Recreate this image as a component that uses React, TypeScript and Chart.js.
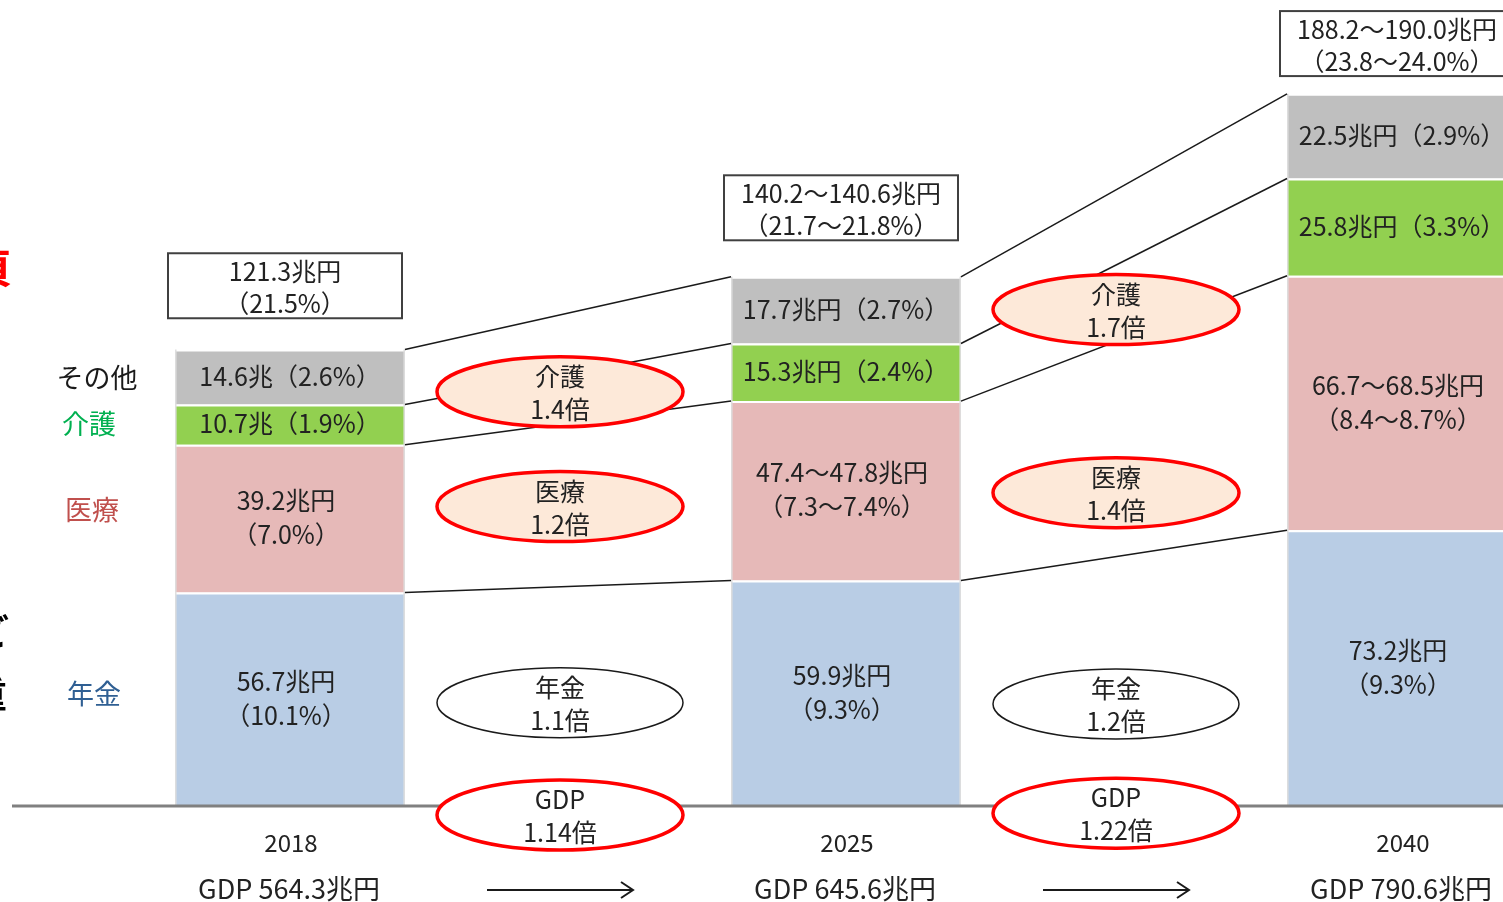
import React, { useEffect, useRef } from "react";
import { Chart, registerables } from "chart.js";

Chart.register(...registerables);

// ---- data ----
const categories = ["2018", "", "2025", "", "2040"];
const gdpLabels = ["GDP 564.3兆円", "", "GDP 645.6兆円", "", "GDP 790.6兆円"];

const pension = [56.7, null, 59.9, null, 73.2];
const medical = [39.2, null, 47.6, null, 67.6];
const care = [10.7, null, 15.3, null, 25.8];
const other = [14.6, null, 17.7, null, 22.5];

const pensionText = [["56.7兆円", "（10.1%）"], null, ["59.9兆円", "（9.3%）"], null, ["73.2兆円", "（9.3%）"]];
const medicalText = [["39.2兆円", "（7.0%）"], null, ["47.4～47.8兆円", "（7.3～7.4%）"], null, ["66.7～68.5兆円", "（8.4～8.7%）"]];
const careText = [["10.7兆（1.9%）"], null, ["15.3兆円（2.4%）"], null, ["25.8兆円（3.3%）"]];
const otherText = [["14.6兆（2.6%）"], null, ["17.7兆円（2.7%）"], null, ["22.5兆円（2.9%）"]];

const totalText = [["121.3兆円", "（21.5%）"], null, ["140.2～140.6兆円", "（21.7～21.8%）"], null, ["188.2～190.0兆円", "（23.8～24.0%）"]];
const totalBoxLevel = [129.5, null, 150.2, null, 193.8];

const seriesNames = ["年金", "医療", "介護", "その他"];
const seriesColors = ["#b9cde5", "#e6b9b8", "#92d050", "#bfbfbf"];
const legendColors = ["#2f5f93", "#c0504d", "#00b050", "#1a1a1a"];
const legendX = [94, 92, 89, 97];
const legendDy = [-5, -9, -1, 1];

// growth ratios shown between bars (gap categories 1 and 3)
const ratioGaps = [1, 3];
const ratioNames = ["介護", "医療", "年金", "GDP"];
const ratioValues = [
  ["1.4倍", "1.7倍"],
  ["1.2倍", "1.4倍"],
  ["1.1倍", "1.2倍"],
  ["1.14倍", "1.22倍"],
];
const ratioLevels = [
  [110.0, 131.8],
  [79.5, 83.2],
  [27.4, 27.1],
  [-2.4, -1.9],
];
const ratioStroke = ["#ff0000", "#ff0000", "#1a1a1a", "#ff0000"];
const ratioFill = ["#fde9d9", "#fde9d9", "#ffffff", "#ffffff"];

const FONT = '"Noto Sans CJK JP", "Noto Sans CJK SC", sans-serif';
const TEXT = "#222222";

function drawLines(ctx: CanvasRenderingContext2D, lines: string[], x: number, cy: number, lh: number, size: number, color: string) {
  ctx.font = `${size}px ${FONT}`;
  ctx.fillStyle = color;
  ctx.textAlign = "center";
  ctx.textBaseline = "middle";
  const n = lines.length;
  lines.forEach((t, i) => ctx.fillText(t, x, cy + (i - (n - 1) / 2) * lh));
}

const overlayPlugin = {
  id: "overlay",
  afterDatasetsDraw(chart: any) {
    const ctx: CanvasRenderingContext2D = chart.ctx;
    const xs = chart.scales.x;
    const ys = chart.scales.y;
    const metas = [0, 1, 2, 3].map((i) => chart.getDatasetMeta(i));
    const barIdx = [0, 2, 4];
    const base = chart.chartArea.bottom;
    ctx.save();

    // faint bar side edges
    ctx.strokeStyle = "#dedede";
    ctx.lineWidth = 1.5;
    barIdx.forEach((i) => {
      const top = metas[3].data[i];
      const l = top.x - top.width / 2;
      const r = top.x + top.width / 2;
      ctx.beginPath();
      ctx.moveTo(l + 0.75, top.y);
      ctx.lineTo(l + 0.75, base);
      ctx.moveTo(r - 0.75, top.y);
      ctx.lineTo(r - 0.75, base);
      ctx.stroke();
    });

    // connecting lines
    ctx.strokeStyle = "#1a1a1a";
    ctx.lineWidth = 1.5;
    metas.forEach((meta) => {
      for (let k = 0; k < barIdx.length - 1; k++) {
        const a = meta.data[barIdx[k]];
        const b = meta.data[barIdx[k + 1]];
        ctx.beginPath();
        ctx.moveTo(a.x + a.width / 2, a.y);
        ctx.lineTo(b.x - b.width / 2, b.y);
        ctx.stroke();
      }
    });

    // segment labels
    const texts = [pensionText, medicalText, careText, otherText];
    metas.forEach((meta, d) => {
      barIdx.forEach((i) => {
        const el = meta.data[i];
        const t = texts[d][i] as string[] | null;
        if (!t) return;
        const dx = t.length > 1 ? -4 : 0;
        drawLines(ctx, t, el.x + dx, (el.y + el.base) / 2 - 1, 34, 25, TEXT);
      });
    });

    // total boxes
    barIdx.forEach((i) => {
      const t = totalText[i];
      if (!t) return;
      const cx = xs.getPixelForValue(i) - 5;
      const bottom = ys.getPixelForValue(totalBoxLevel[i] as number);
      const w = 234, h = 65;
      ctx.fillStyle = "#ffffff";
      ctx.fillRect(cx - w / 2, bottom - h, w, h);
      ctx.strokeStyle = "#404040";
      ctx.lineWidth = 2;
      ctx.strokeRect(cx - w / 2, bottom - h, w, h);
      drawLines(ctx, t, cx, bottom - h / 2 + 2, 32, 25, TEXT);
    });

    // baseline
    ctx.strokeStyle = "#808080";
    ctx.lineWidth = 3;
    ctx.beginPath();
    ctx.moveTo(12, base);
    ctx.lineTo(1503, base);
    ctx.stroke();

    // ratio ellipses
    ratioGaps.forEach((g, gi) => {
      const cx = xs.getPixelForValue(g) - 8;
      ratioNames.forEach((name, r) => {
        const cy = ys.getPixelForValue(ratioLevels[r][gi]);
        ctx.beginPath();
        ctx.ellipse(cx, cy, 123, 35, 0, 0, Math.PI * 2);
        ctx.fillStyle = ratioFill[r];
        ctx.fill();
        ctx.strokeStyle = ratioStroke[r];
        ctx.lineWidth = ratioStroke[r] === "#ff0000" ? 3.5 : 1.5;
        ctx.stroke();
        drawLines(ctx, [name, ratioValues[r][gi]], cx, cy + 1, 33, 25, TEXT);
      });
    });

    // left legend labels (aligned to 2018 segments)
    metas.forEach((meta, d) => {
      const el = meta.data[0];
      const cy = (el.y + el.base) / 2 + legendDy[d];
      drawLines(ctx, [seriesNames[d]], legendX[d], cy, 30, 27, legendColors[d]);
    });

    // category labels under the axis
    categories.forEach((c, i) => {
      if (!c) return;
      const x = xs.getPixelForValue(i);
      drawLines(ctx, [c], x + 1, base + 37, 30, 24, TEXT);
      drawLines(ctx, [gdpLabels[i]], x - 1, base + 83, 30, 27, TEXT);
    });

    // arrows between GDP labels
    ctx.strokeStyle = "#1a1a1a";
    ctx.lineWidth = 2;
    ratioGaps.forEach((g) => {
      const cx = xs.getPixelForValue(g) - 8;
      const y = base + 84;
      ctx.beginPath();
      ctx.moveTo(cx - 73, y);
      ctx.lineTo(cx + 73, y);
      ctx.moveTo(cx + 61, y - 8);
      ctx.lineTo(cx + 73, y);
      ctx.lineTo(cx + 61, y + 8);
      ctx.stroke();
    });

    // cropped fragments at the left edge
    ctx.textAlign = "right";
    ctx.textBaseline = "middle";
    ctx.font = `bold 40px ${FONT}`;
    ctx.fillStyle = "#ff0000";
    ctx.fillText("頁", 12, 268);
    ctx.font = `bold 36px ${FONT}`;
    ctx.fillStyle = "#000000";
    ctx.fillText("ご", 9, 632);
    ctx.fillText("重", 7, 694);

    ctx.restore();
  },
};

export default function App() {
  const ref = useRef<HTMLCanvasElement | null>(null);

  useEffect(() => {
    document.body.style.margin = "0";
    const canvas = ref.current;
    if (!canvas) return;
    const values = [pension, medical, care, other];
    const chart = new Chart(canvas, {
      type: "bar",
      data: {
        labels: categories,
        datasets: values.map((v, d) => ({
          label: seriesNames[d],
          data: v as any,
          backgroundColor: seriesColors[d],
          borderColor: "#ffffff",
          borderWidth: { top: 2, left: 0, right: 0, bottom: 0 },
          borderSkipped: "start",
          barPercentage: 0.827,
          categoryPercentage: 1,
        })),
      },
      options: {
        responsive: false,
        maintainAspectRatio: false,
        animation: false,
        layout: { padding: { left: 151, right: 0, top: 0, bottom: 96 } },
        plugins: { legend: { display: false }, tooltip: { enabled: false } },
        scales: {
          x: { display: false, stacked: true },
          y: { display: false, stacked: true, min: 0, max: 214 },
        },
      },
      plugins: [overlayPlugin],
    });
    let alive = true;
    const fonts: any = (document as any).fonts;
    if (fonts && fonts.load) {
      fonts.load(`25px ${FONT}`, "兆円").then(() => {
        if (alive) chart.update();
      }).catch(() => {});
    }
    return () => {
      alive = false;
      chart.destroy();
    };
  }, []);

  return (
    <div style={{ position: "absolute", left: 0, top: 0, width: 1503, height: 902, overflow: "hidden", background: "#ffffff" }}>
      <canvas ref={ref} width={1541} height={902} style={{ display: "block" }} />
    </div>
  );
}
